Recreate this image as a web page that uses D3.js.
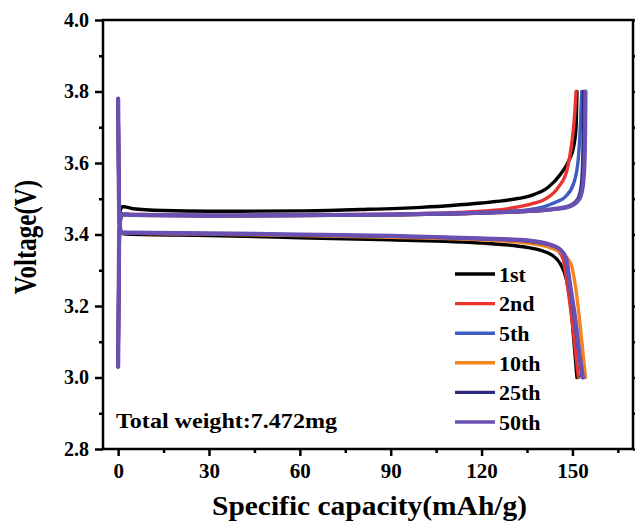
<!DOCTYPE html>
<html>
<head>
<meta charset="utf-8">
<script src="https://cdn.jsdelivr.net/npm/d3@7"></script>
<style>
  body { margin: 0; background: #fff; }
  text { font-family: "Liberation Serif", "Times New Roman", serif; font-weight: bold; fill: #000; }
</style>
</head>
<body>
<svg width="635" height="527"></svg>
<script>
// cycle labels and colours
var cycles = ["1st", "2nd", "5th", "10th", "25th", "50th"];
var colors = ["#000000", "#e8332f", "#3f5cc0", "#f5841f", "#2c2b7c", "#6a50b2"];

// charge curves [capacity mAh/g, voltage V]
var charge1st = [[0,3.03],[0.3,3.40],[0.8,3.47],[1.5,3.478],[5,3.472],[15,3.467],[30,3.465],[60,3.466],[80,3.470],[100,3.476],[110,3.481],[120,3.488],[130,3.498],[136,3.508],[142,3.532],[146,3.568],[149,3.61],[150.5,3.65],[151.2,3.70],[151.5,3.80]];
var charge2nd = [[0,3.03],[0.3,3.37],[0.8,3.445],[1.6,3.458],[5,3.456],[30,3.454],[60,3.455],[90,3.457],[110,3.461],[120,3.465],[130,3.474],[137,3.487],[141,3.499],[145.5,3.534],[148.2,3.58],[149.8,3.656],[150.6,3.72],[151.2,3.80]];
var charge5th = [[0,3.03],[0.3,3.37],[0.8,3.445],[1.6,3.457],[5,3.455],[30,3.453],[60,3.454],[90,3.456],[120,3.461],[135,3.469],[141,3.479],[145,3.492],[147.7,3.506],[150.4,3.543],[151.9,3.608],[152.6,3.70],[153.1,3.80]];
var charge10th = [[0,3.03],[0.3,3.37],[0.8,3.445],[1.6,3.456],[5,3.454],[30,3.452],[60,3.453],[90,3.455],[120,3.460],[141,3.468],[148.5,3.478],[151.8,3.497],[153.1,3.534],[153.7,3.608],[153.9,3.70],[154.0,3.80]];
var charge25th = [[0,3.03],[0.3,3.37],[0.8,3.445],[1.6,3.456],[5,3.454],[30,3.452],[60,3.453],[90,3.455],[120,3.460],[141,3.468],[148.3,3.478],[151.6,3.497],[152.9,3.534],[153.4,3.608],[153.6,3.70],[153.7,3.80]];
var charge50th = [[0,3.03],[0.3,3.37],[0.8,3.445],[1.6,3.457],[5,3.455],[30,3.453],[60,3.454],[90,3.456],[120,3.461],[141,3.469],[148.8,3.478],[152.1,3.497],[153.4,3.534],[154,3.608],[154.2,3.70],[154.3,3.80]];

// discharge curves [capacity mAh/g, voltage V]
var discharge1st = [[0,3.78],[0.2,3.55],[0.5,3.43],[1,3.404],[3,3.401],[30,3.397],[60,3.391],[90,3.385],[120,3.376],[135,3.364],[142,3.348],[146,3.318],[148,3.275],[149.5,3.2],[150.5,3.1],[151.5,3.0]];
var discharge2nd = [[0,3.78],[0.2,3.55],[0.5,3.43],[1,3.405],[3,3.404],[30,3.402],[60,3.399],[90,3.395],[120,3.388],[135,3.381],[144,3.362],[146.8,3.335],[148.3,3.26],[150,3.15],[151.3,3.05],[152,3.0]];
var discharge5th = [[0,3.78],[0.2,3.55],[0.5,3.43],[1,3.405],[3,3.404],[30,3.402],[60,3.399],[90,3.395],[120,3.388],[135,3.382],[144.4,3.366],[147.5,3.34],[149,3.26],[150.7,3.16],[152.4,3.05],[153.2,3.0]];
var discharge10th = [[0,3.78],[0.2,3.55],[0.5,3.43],[1,3.405],[3,3.404],[30,3.401],[60,3.397],[90,3.392],[120,3.385],[135,3.376],[143,3.362],[147,3.345],[149.5,3.318],[151,3.255],[152.5,3.15],[153.7,3.05],[154.3,3.0]];
var discharge25th = [[0,3.78],[0.2,3.55],[0.5,3.43],[1,3.405],[3,3.404],[30,3.402],[60,3.399],[90,3.395],[120,3.388],[135,3.382],[144.4,3.366],[147.7,3.338],[149.2,3.26],[150.9,3.16],[152.5,3.05],[153.3,3.0]];
var discharge50th = [[0,3.78],[0.2,3.55],[0.5,3.43],[1,3.406],[3,3.405],[30,3.403],[60,3.400],[90,3.396],[119,3.389],[135.6,3.383],[144.4,3.366],[147.7,3.338],[149.3,3.254],[151,3.16],[152.6,3.049],[153.5,3.0]];

var chargeData = [charge1st, charge2nd, charge5th, charge10th, charge25th, charge50th];
var dischargeData = [discharge1st, discharge2nd, discharge5th, discharge10th, discharge25th, discharge50th];

// ticks
var xTicks = [0, 30, 60, 90, 120, 150];
var xMinor = [15, 45, 75, 105, 135, 165];
var yTicks = [2.8, 3.0, 3.2, 3.4, 3.6, 3.8, 4.0];
var yMinor = [2.9, 3.1, 3.3, 3.5, 3.7, 3.9];

var plotL = 103, plotR = 633, plotT = 20, plotB = 449;

var x = d3.scaleLinear().domain([-5, 170]).range([plotL, plotR]);
var y = d3.scaleLinear().domain([2.8, 4.0]).range([plotB, plotT]);

var svg = d3.select("svg");

var line = d3.line()
    .x(function(d) { return x(d[0]); })
    .y(function(d) { return y(d[1]); })
    .curve(d3.curveMonotoneX);

var curves = svg.append("g").attr("fill", "none").attr("stroke-linejoin", "round").attr("stroke-linecap", "round");
cycles.forEach(function(c, i) {
    var w = i == 5 ? 4.2 : 3.4;
    curves.append("path").attr("d", line(chargeData[i])).attr("stroke", colors[i]).attr("stroke-width", w);
    curves.append("path").attr("d", line(dischargeData[i])).attr("stroke", colors[i]).attr("stroke-width", w);
});

// axes
var xAxis = d3.axisBottom(x).tickValues(xTicks).tickSize(7).tickPadding(7).tickFormat(d3.format("d"));
var xAxisMinor = d3.axisBottom(x).tickValues(xMinor).tickSize(4).tickFormat("");
var yAxis = d3.axisLeft(y).tickValues(yTicks).tickSize(8).tickPadding(6).tickFormat(d3.format(".1f"));
var yAxisMinor = d3.axisLeft(y).tickValues(yMinor).tickSize(4).tickFormat("");
var yRight = d3.axisLeft(y).tickValues(yTicks).tickSize(-7).tickFormat("");
var yRightMinor = d3.axisLeft(y).tickValues(yMinor).tickSize(-4).tickFormat("");

function style(size) {
    return function(g) {
        g.select(".domain").remove();
        g.selectAll("line").attr("stroke", "#000").attr("stroke-width", 2.5);
        g.selectAll("text").style("font-size", size + "px").style("font-family", "Liberation Serif").style("font-weight", "bold").attr("fill", "#000");
    };
}

svg.append("g").attr("transform", "translate(0," + plotB + ")").call(xAxis).call(style(21));
svg.append("g").attr("transform", "translate(0," + plotB + ")").call(xAxisMinor).call(style(21));
svg.append("g").attr("transform", "translate(" + plotL + ",0)").call(yAxis).call(style(20));
svg.append("g").attr("transform", "translate(" + plotL + ",0)").call(yAxisMinor).call(style(20));
svg.append("g").attr("transform", "translate(" + plotR + ",0)").call(yRight).call(style(20));
svg.append("g").attr("transform", "translate(" + plotR + ",0)").call(yRightMinor).call(style(20));

// frame
svg.append("rect")
    .attr("x", plotL).attr("y", plotT)
    .attr("width", plotR - plotL).attr("height", plotB - plotT)
    .attr("fill", "none").attr("stroke", "#000").attr("stroke-width", 2.5);

// legend
var legend = svg.append("g");
cycles.forEach(function(c, i) {
    var ly = 274 + i * 29.6;
    legend.append("line").attr("x1", 455).attr("x2", 495).attr("y1", ly).attr("y2", ly)
        .attr("stroke", colors[i]).attr("stroke-width", 3.4);
    legend.append("text").attr("x", 499).attr("y", ly).attr("dy", "0.35em")
        .style("font-size", "22px").text(c);
});

svg.append("text").attr("x", 116).attr("y", 428)
    .attr("textLength", 221).attr("lengthAdjust", "spacingAndGlyphs")
    .style("font-size", "22px").text("Total weight:7.472mg");

// axis titles
svg.append("text").attr("x", 212).attr("y", 515)
    .attr("textLength", 315).attr("lengthAdjust", "spacingAndGlyphs")
    .style("font-size", "28px").text("Specific capacity(mAh/g)");
svg.append("text").attr("transform", "translate(36,237) scale(1.25,1) rotate(-90)").attr("text-anchor", "middle")
    .style("font-size", "25px").text("Voltage(V)");
</script>
</body>
</html>
